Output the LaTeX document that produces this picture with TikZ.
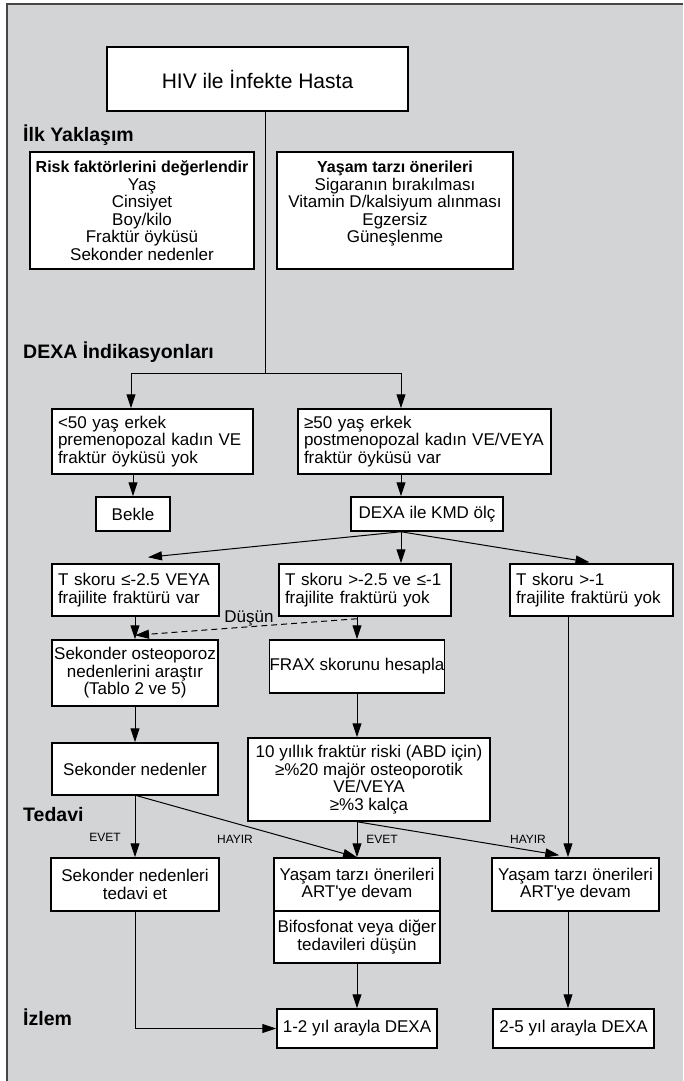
\documentclass[tikz,border=0pt]{standalone}
\usepackage{fontspec}
\setmainfont{Liberation Sans}
\usetikzlibrary{arrows.meta,calc}
\definecolor{zemin}{RGB}{211,212,214}
\definecolor{cerceve}{RGB}{70,70,70}
\tikzset{
  kutu/.style={draw, fill=white, line width=1.5pt, inner sep=0pt, align=center, font=\fontsize{17}{17.5}\selectfont},
  solkutu/.style={kutu, align=left, inner xsep=6pt},
  baslik/.style={anchor=base west, inner sep=0pt, font=\bfseries\fontsize{19.5}{20}\selectfont},
  etiket/.style={inner sep=0pt, font=\fontsize{12}{12}\selectfont},
  ok/.style={line width=1pt, -{Triangle[length=14pt,width=9pt]}},
}
\newcommand\kalin[1]{{\bfseries\fontsize{16}{17.5}\selectfont #1}}

\begin{document}
\begin{tikzpicture}[x=1pt, y=-1pt]
			%%%%% ZEMIN %%%%%
			\useasboundingbox (0,0) rectangle (683,1081);
			\fill[white] (0,0) rectangle (683,1081);
			\fill[zemin] (7,4) rectangle (683,1081);
			\draw[cerceve, line width=2pt] (7,1081) -- (7,4) -- (683,4);
			
			%%%%% BASLIKLAR %%%%%
			\node[baslik] (ilk) at (23,141) {İlk Yaklaşım};
			\node[baslik] (dexaind) at (23,358) {DEXA İndikasyonları};
			\node[baslik] (tedbas) at (23,821) {Tedavi};
			\node[baslik] (izlbas) at (23,1025) {İzlem};
			
			%%%%% KUTULAR %%%%%
			\node[kutu, minimum width=301pt, minimum height=64pt, font=\fontsize{21}{24}\selectfont] (hiv) at (257.5,79) {HIV ile İnfekte Hasta};
			
			\node[kutu, minimum width=224pt, minimum height=117pt] (risk) at (142,210.5)
				{\kalin{Risk faktörlerini değerlendir}\\Yaş\\Cinsiyet\\Boy/kilo\\Fraktür öyküsü\\Sekonder nedenler};
			\node[kutu, minimum width=236pt, minimum height=117pt] (yasam) at (395,210.5)
				{\kalin{Yaşam tarzı önerileri}\\Sigaranın bırakılması\\Vitamin D/kalsiyum alınması\\Egzersiz\\Güneşlenme\\~};
			
			\node[solkutu, text width=189pt, minimum height=65pt] (kucuk) at (152.5,441.5)
				{<50 yaş erkek\\premenopozal kadın VE\\fraktür öyküsü yok};
			\node[solkutu, text width=241pt, minimum height=65pt] (buyuk) at (424.5,441.5)
				{≥50 yaş erkek\\postmenopozal kadın VE/VEYA\\fraktür öyküsü var};
			
			\node[kutu, minimum width=74pt, minimum height=34pt] (bekle) at (133,514) {Bekle};
			\node[kutu, minimum width=152pt, minimum height=34pt] (kmd) at (427,514) {DEXA ile KMD ölç};
			
			\node[solkutu, text width=155pt, minimum height=52pt] (t1) at (135.5,590)
				{T skoru ≤-2.5 VEYA\\frajilite fraktürü var};
			\node[solkutu, text width=160pt, minimum height=52pt] (t2) at (365,590)
				{T skoru >-2.5 ve ≤-1\\frajilite fraktürü yok};
			\node[solkutu, text width=151pt, minimum height=52pt] (t3) at (591.5,590)
				{T skoru >-1\\frajilite fraktürü yok};
			
			\node[kutu, minimum width=166pt, minimum height=66pt] (sekost) at (135,673)
				{Sekonder osteoporoz\\nedenlerini araştır\\(Tablo 2 ve 5)};
			\node[kutu, minimum width=172pt, minimum height=53pt] (frax) at (357,666.5) {FRAX skorunu hesapla};
			
			\node[kutu, minimum width=166pt, minimum height=52pt] (sekned) at (135,769) {Sekonder nedenler};
			\node[kutu, minimum width=242pt, minimum height=83pt] (onyil) at (369,779.5)
				{10 yıllık fraktür riski (ABD için)\\≥\%20 majör osteoporotik\\VE/VEYA\\≥\%3 kalça};
			
			\node[kutu, minimum width=168pt, minimum height=53pt] (tedavi) at (135,884.5) {Sekonder nedenleri\\tedavi et};
			\node[kutu, minimum width=166pt, minimum height=53pt] (yasam2) at (357,884.5) {Yaşam tarzı önerileri\\ART\textquotesingle ye devam};
			\node[kutu, minimum width=166pt, minimum height=52pt] (bifos) at (357,937) {Bifosfonat veya diğer\\tedavileri düşün};
			\node[kutu, minimum width=167pt, minimum height=53pt] (yasam3) at (575.5,884.5) {Yaşam tarzı önerileri\\ART\textquotesingle ye devam};
			
			\node[kutu, minimum width=160pt, minimum height=39pt] (izlem1) at (357,1028.5) {1-2 yıl arayla DEXA};
			\node[kutu, minimum width=161pt, minimum height=39pt] (izlem2) at (573.5,1028.5) {2-5 yıl arayla DEXA};
			
			%%%%% ETIKETLER %%%%%
			\node[etiket] (evet1) at (105,837) {EVET};
			\node[etiket] (hayir1) at (235,839) {HAYIR};
			\node[etiket] (evet2) at (382,839) {EVET};
			\node[etiket] (hayir2) at (528,839) {HAYIR};
			\node[inner sep=0pt, font=\fontsize{17}{17}\selectfont] (dusun) at (249,618) {Düşün};
			
			%%%%% OKLAR %%%%%
			\coordinate (bol) at (265,373);
			\coordinate (solk) at (131,373);
			\coordinate (sagk) at (401,373);
			\coordinate (sagk2) at (568,616);
			\coordinate (kmdalt) at (sagk |- kmd.south);
			
			\draw[line width=1pt] (hiv.south -| bol) -- (bol);
			\draw[line width=1pt] (solk) -- (sagk);
			\draw[ok] (solk) -- (solk |- kucuk.north);
			\draw[ok] (sagk) -- (sagk |- buyuk.north);
			\draw[ok] (bekle.north |- kucuk.south) -- (bekle.north);
			\draw[ok] (sagk |- buyuk.south) -- (sagk |- kmd.north);
			
			\draw[ok] (kmdalt) -- ($(t1.north)+(12.5,-6)$);
			\draw[ok] (kmdalt) -- (kmdalt |- t2.north);
			\draw[ok] (kmdalt) -- ($(t3.north)+(-2,-1)$);
			
			\draw[ok] (sekost.north |- t1.south) -- (sekost.north);
			\draw[ok] (frax.north |- t2.south) -- (frax.north);
			\draw[ok, dash pattern=on 6pt off 4pt] ($(frax.north |- t2.south)+(0,2)$) -- ($(sekost.north)+(0,-4)$);
			
			\draw[ok] (sekost.south) -- (sekned.north);
			\draw[ok] (frax.south) -- (frax.south |- onyil.north);
			
			\draw[ok] (tedavi.north |- sekned.south) -- (tedavi.north);
			\draw[ok] ($(sekned.south)+(2,0)$) -- (yasam2.north);
			\draw[ok] (yasam2.north |- onyil.south) -- (yasam2.north);
			\draw[ok] (yasam2.north |- onyil.south) -- ($(yasam3.north west)+(68,-2)$);
			\draw[ok] (sagk2) -- (sagk2 |- yasam3.north);
			
			\draw[ok] (bifos.south) -- (izlem1.north);
			\draw[ok] (sagk2 |- yasam3.south) -- (sagk2 |- izlem2.north);
			\draw[ok] (tedavi.south) |- (izlem1.west);
			
		\end{tikzpicture}
\end{document}
